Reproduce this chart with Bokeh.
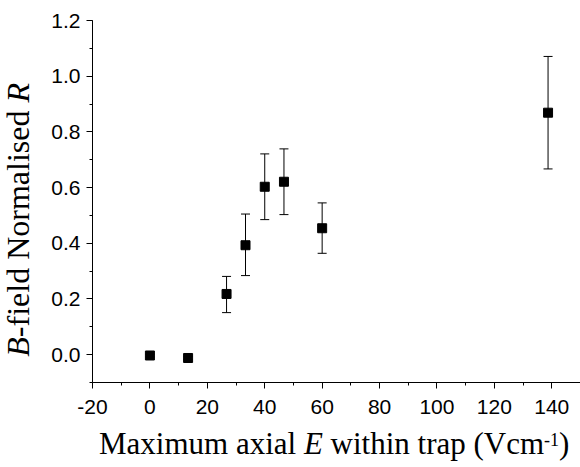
from bokeh.plotting import figure
from bokeh.models import (ColumnDataSource, Whisker, TeeHead, SingleIntervalTicker,
                          CustomJSTickFormatter, Div)
from bokeh.layouts import row, column
from bokeh.embed import file_html
from bokeh.resources import INLINE

# Data
field_E = [0.0, 13.3, 26.7, 33.3, 40.0, 46.7, 60.0, 138.7]
norm_R = [-0.003, -0.012, 0.218, 0.393, 0.603, 0.621, 0.454, 0.869]
err_low = [-0.008, -0.017, 0.151, 0.284, 0.485, 0.503, 0.364, 0.667]
err_high = [0.002, -0.007, 0.281, 0.505, 0.721, 0.739, 0.545, 1.071]

x_tick_interval = 20
y_tick_interval = 0.2
x_label_html = "Maximum axial <i>E</i> within trap (Vcm<sup>-1</sup>)"
y_label_html = "<i>B</i>-field Normalised <i>R</i>"

src = ColumnDataSource(dict(x=field_E, y=norm_R, lo=err_low, hi=err_high))

TOTAL_W = 580
YL_W = 40
P_W = TOTAL_W - YL_W
TOP, FRAME_H, BOTTOM = 20, 362, 40
P_H = TOP + FRAME_H + BOTTOM
XL_H = 467 - P_H

p = figure(width=P_W, height=P_H, x_range=(-20, 150), y_range=(-0.1, 1.2001),
           output_backend="svg", toolbar_location=None,
           min_border_left=92 - YL_W, min_border_right=0, min_border_top=TOP,
           min_border_bottom=BOTTOM)
p.outline_line_color = None
p.grid.visible = False
p.background_fill_color = "white"
p.border_fill_color = "white"
p.margin = 0

p.xaxis.ticker = SingleIntervalTicker(interval=x_tick_interval, num_minor_ticks=2)
p.yaxis.ticker = SingleIntervalTicker(interval=y_tick_interval, num_minor_ticks=2)
p.xaxis.formatter = CustomJSTickFormatter(code="return Math.round(tick).toString();")
p.yaxis.formatter = CustomJSTickFormatter(code="return tick.toFixed(1);")

for ax in (p.xaxis[0], p.yaxis[0]):
    ax.axis_line_color = "black"
    ax.axis_line_width = 1
    ax.major_tick_line_color = "black"
    ax.minor_tick_line_color = "black"
    ax.major_tick_in = 0
    ax.major_tick_out = 6
    ax.minor_tick_in = 0
    ax.minor_tick_out = 3
    ax.major_label_text_font = "Liberation Sans"
    ax.major_label_text_font_size = "21px"
    ax.major_label_text_color = "black"
p.xaxis.major_label_standoff = 11
p.yaxis.major_label_standoff = 6

p.add_layout(Whisker(source=src, base="x", lower="lo", upper="hi", dimension="height",
                     line_color="black", line_width=1,
                     upper_head=TeeHead(size=9, line_color="black", line_width=1),
                     lower_head=TeeHead(size=9, line_color="black", line_width=1)))
p.scatter("x", "y", source=src, marker="square", size=9, fill_color="black", line_color="black")

ylabel = Div(width=YL_W, height=P_H, margin=0, text=(
    f'<div style="position:relative;width:{YL_W}px;height:{P_H}px;">'
    f'<div style="position:absolute;left:0px;bottom:{P_H - 357}px;'
    'writing-mode:vertical-rl;transform:rotate(180deg);white-space:nowrap;'
    'font-family:\'Liberation Serif\';font-size:32px;line-height:36px;color:black;">'
    f'{y_label_html}</div></div>'))

xlabel = Div(width=TOTAL_W, height=XL_H, margin=0, text=(
    f'<div style="position:relative;width:{TOTAL_W}px;height:{XL_H}px;">'
    '<div style="position:absolute;left:99px;top:4px;white-space:nowrap;'
    'font-family:\'Liberation Serif\';font-size:31px;line-height:35px;color:black;">'
    + x_label_html.replace("<sup>", '<sup style="font-size:18px;line-height:0;vertical-align:0.45em;">')
    + '</div></div>'))

layout = column(row(ylabel, p, spacing=0), xlabel, spacing=0)

open("out.html", "w").write(file_html(layout, INLINE))
